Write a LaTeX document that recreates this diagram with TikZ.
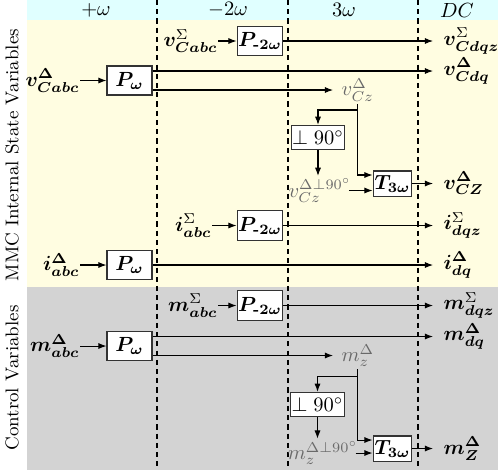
\documentclass[tikz,border=0pt]{standalone}
\usepackage{amsmath}
\usepackage{bm}
\usetikzlibrary{arrows.meta,calc}
\definecolor{hdrcyan}{RGB}{224,255,255}
\definecolor{bgyellow}{RGB}{255,253,225}
\definecolor{bggray}{RGB}{211,211,211}
\definecolor{dimtext}{RGB}{105,105,105}
\begin{document}
\begin{tikzpicture}[x=0.4878pt,y=-0.4878pt,
  line/.style={line width=0.5pt, black},
  arr/.style={line, -{Latex[length=4pt,width=3pt]}},
  sepline/.style={line width=0.7pt, dash pattern=on 2.5pt off 2pt},
  blk/.style={draw=black!80, fill=white, line width=0.5pt, inner sep=0.5pt},
  pwbox/.style={blk, minimum width=21.95pt, minimum height=14.15pt},
  ptbox/.style={blk, minimum width=22.4pt, minimum height=14.6pt},
  qbox/.style={blk, minimum width=24.4pt, minimum height=11.9pt},
  tbox/.style={blk, minimum width=19pt, minimum height=12.2pt},
  inl/.style={inner sep=0pt, anchor=east},
  outl/.style={anchor=west, inner xsep=5pt, inner ysep=1pt},
  glab/.style={anchor=west, inner xsep=4pt, inner ysep=1pt, text=dimtext},
  glabc/.style={inner sep=1pt, text=dimtext},
  hdr/.style={inner sep=0pt},
  side/.style={rotate=90, font=\small, inner sep=0pt}
]
\useasboundingbox (0,0) rectangle (498,472);
% backgrounds
\fill[hdrcyan] (27,0) rectangle (498,20);
\fill[bgyellow] (27,20) rectangle (498,287);
\fill[bggray] (27,287) rectangle (498,470);
% headers
\node[hdr] (h1) at (96,10) {$+\omega$};
\node[hdr] (h2) at (228,10) {$-2\omega$};
\node[hdr] (h3) at (344,10) {$3\omega$};
\node[hdr] (h4) at (457,10) {$DC$};
% side labels
\node[side] (s1) at (12,155) {MMC Internal State Variables};
\node[side] (s2) at (12,378) {Control Variables};
% separators
\draw[sepline] (157,0) -- (157,470);
\draw[sepline] (288,0) -- (288,470);
\draw[sepline] (418,0) -- (418,470);

% row v Sigma
\node[inl] (vsi) at (218,41) {$\bm{v}^{\Sigma}_{\bm{Cabc}}$};
\node[ptbox] (P1) at (260,41) {$\bm{P}_{\textbf{-}\bm{2\omega}}$};
\node[outl] (vso) at (433,41) {$\bm{v}^{\Sigma}_{\bm{Cdqz}}$};
\draw[arr] (vsi.east) -- (P1.west);
\draw[arr] (P1.east) -- (vso.west);

% row v Delta
\node[inl] (vdi) at (80,80.5) {$\bm{v}^{\bm{\Delta}}_{\bm{Cabc}}$};
\node[pwbox] (P2) at (129.5,80.5) {$\bm{P}_{\bm{\omega}}$};
\node[outl] (vdo) at (433,71) {$\bm{v}^{\bm{\Delta}}_{\bm{Cdq}}$};
\node[glab] (vcz) at (333,90) {$v^{\Delta}_{Cz}$};
\draw[arr] (vdi.east) -- (P2.west);
\draw[arr] ($(P2.east)+(0,-9.5)$) -- (vdo.west);
\draw[arr] ($(P2.east)+(0,9.5)$) -- (vcz.west);

\coordinate (ya) at (0,110);
\coordinate (j1) at (vcz.south |- ya);
\node[qbox] (Q1) at (318,137.5) {$\perp 90^{\circ}$};
\node[tbox] (T1) at (392.5,183.5) {$\bm{T}_{\bm{3\omega}}$};
\node[glabc] (vq) at (320,190.5) {$v^{\Delta\perp 90^{\circ}}_{Cz}$};
\node[outl] (vZo) at (433,183.5) {$\bm{v}^{\bm{\Delta}}_{\bm{CZ}}$};
\draw[arr] (vcz.south) |- ($(T1.west)+(0,-8.5)$);
\draw[arr] (j1) -| (Q1.north);
\draw[arr] (Q1.south) -- (Q1.south |- vq.north);
\coordinate (vqo) at ($(vq.east)+(-5,0)$);
\draw[arr] (vqo) -- (vqo -| T1.west);
\draw[arr] (T1.east) -- (vZo.west);

% row i Sigma
\node[inl] (isi) at (212,225.5) {$\bm{i}^{\Sigma}_{\bm{abc}}$};
\node[ptbox] (P3) at (260,225.5) {$\bm{P}_{\textbf{-}\bm{2\omega}}$};
\node[outl] (iso) at (433,225.5) {$\bm{i}^{\Sigma}_{\bm{dqz}}$};
\draw[arr] (isi.east) -- (P3.west);
\draw[arr] (P3.east) -- (iso.west);

% row i Delta
\node[inl] (idi) at (80,265) {$\bm{i}^{\bm{\Delta}}_{\bm{abc}}$};
\node[pwbox] (P4) at (129.5,265) {$\bm{P}_{\bm{\omega}}$};
\node[outl] (ido) at (433,265) {$\bm{i}^{\bm{\Delta}}_{\bm{dq}}$};
\draw[arr] (idi.east) -- (P4.west);
\draw[arr] (P4.east) -- (ido.west);

% row m Sigma
\node[inl] (msi) at (218,305.5) {$\bm{m}^{\Sigma}_{\bm{abc}}$};
\node[ptbox] (P5) at (260,305.5) {$\bm{P}_{\textbf{-}\bm{2\omega}}$};
\node[outl] (mso) at (433,305.5) {$\bm{m}^{\Sigma}_{\bm{dqz}}$};
\draw[arr] (msi.east) -- (P5.west);
\draw[arr] (P5.east) -- (mso.west);

% row m Delta
\node[inl] (mdi) at (80,346) {$\bm{m}^{\bm{\Delta}}_{\bm{abc}}$};
\node[pwbox] (P6) at (129.5,346) {$\bm{P}_{\bm{\omega}}$};
\node[outl] (mdo) at (433,336.5) {$\bm{m}^{\bm{\Delta}}_{\bm{dq}}$};
\node[glab] (mz) at (333,355.5) {$m^{\Delta}_{z}$};
\draw[arr] (mdi.east) -- (P6.west);
\draw[arr] ($(P6.east)+(0,-9.5)$) -- (mdo.west);
\draw[arr] ($(P6.east)+(0,9.5)$) -- (mz.west);

\coordinate (yb) at (0,376);
\coordinate (j2) at (mz.south |- yb);
\node[qbox] (Q2) at (317.5,404.5) {$\perp 90^{\circ}$};
\node[tbox] (T2) at (392.5,448.5) {$\bm{T}_{\bm{3\omega}}$};
\node[glabc] (mq) at (323,453) {$m^{\Delta\perp 90^{\circ}}_{z}$};
\node[outl] (mZo) at (433,448.5) {$\bm{m}^{\bm{\Delta}}_{\bm{Z}}$};
\draw[arr] (mz.south) |- ($(T2.west)+(0,-8.5)$);
\draw[arr] (j2) -| (Q2.north);
\draw[arr] (Q2.south) -- (Q2.south |- mq.north);
\coordinate (mqo) at ($(mq.east)+(-5,0)$);
\draw[arr] (mqo) -- (mqo -| T2.west);
\draw[arr] (T2.east) -- (mZo.west);
\end{tikzpicture}
\end{document}
